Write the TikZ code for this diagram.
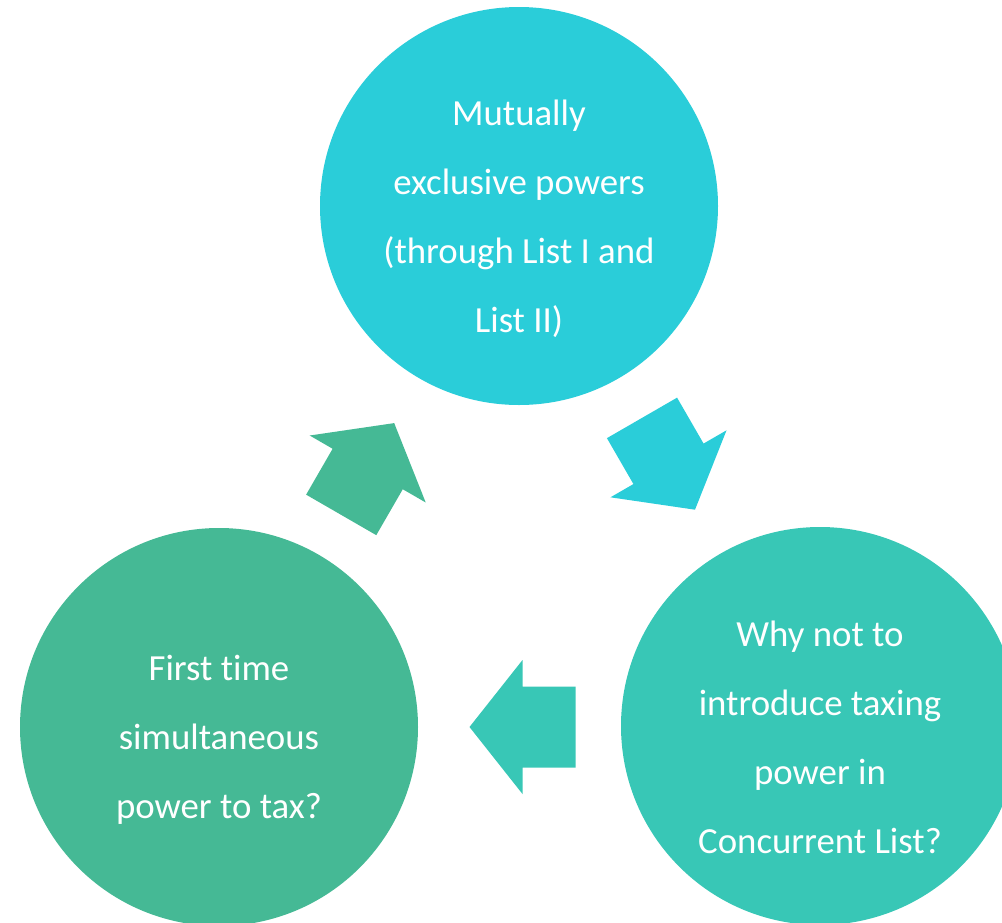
\documentclass[tikz,border=0pt]{standalone}
\usepackage{fontspec}
\setmainfont{Carlito}[RawFeature={-liga;-clig;-calt;-dlig}]
\definecolor{cyanA}{RGB}{42,205,217}
\definecolor{tealB}{RGB}{56,199,182}
\definecolor{greenC}{RGB}{69,185,149}

\begin{document}
\begin{tikzpicture}[x=0.5pt,y=-0.5pt,stage/.style={shape=circle,minimum size=199pt,inner sep=0pt},stageT/.style={text=white,align=center,font=\fontsize{18.4}{34.5}\selectfont},stageA/.style={stage,fill=cyanA},stageB/.style={stage,fill=tealB},stageC/.style={stage,fill=greenC}]
\def\al{53}
\def\as{40.5}
\def\ah{67}

\clip (0,0) rectangle (1002,922);

\node[stageA] (mutual) at (519,206) {};
\node[stageB] (why) at (820,726) {};
\node[stageC] (first) at (219,727) {};

\node[stageT] (mutualT) at ([yshift=-6.5pt]mutual.center) {Mutually\\exclusive powers\\(through List I and\\List II)};
\node[stageT] (whyT) at ([yshift=-5.5pt]why.center) {Why not to\\introduce taxing\\power in\\Concurrent List?};
\node[stageT] (firstT) at ([yshift=-6.3pt]first.center) {First t\kern0pt ime\\simultaneous\\power to tax?};

% block arrows between the stages
\fill[cyanA,shift={(668.5,463.8)},rotate=-60] (-\al,-\as) -- (0,-\as) -- (0,-\ah) -- (\al,0) -- (0,\ah) -- (0,\as) -- (-\al,\as) -- cycle;
\fill[tealB,shift={(522.5,727)},rotate=180] (-\al,-\as) -- (0,-\as) -- (0,-\ah) -- (\al,0) -- (0,\ah) -- (0,\as) -- (-\al,\as) -- cycle;
\fill[greenC,shift={(367.7,469)},rotate=60] (-\al,-\as) -- (0,-\as) -- (0,-\ah) -- (\al,0) -- (0,\ah) -- (0,\as) -- (-\al,\as) -- cycle;

\end{tikzpicture}
\end{document}
